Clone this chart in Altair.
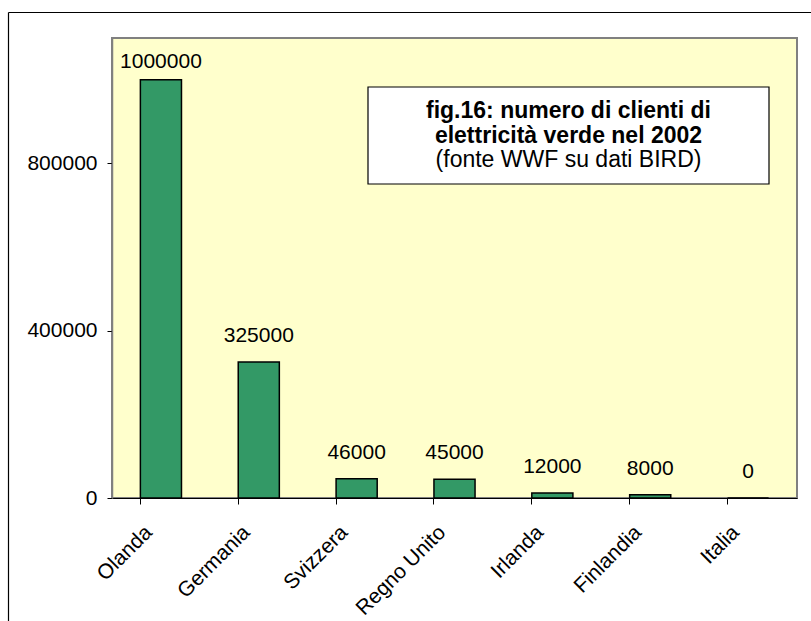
import altair as alt
import pandas as pd

countries = ["Olanda", "Germania", "Svizzera", "Regno Unito", "Irlanda", "Finlandia", "Italia"]
clients = [1000000, 325000, 46000, 45000, 12000, 8000, 0]
y_ticks = [0, 400000, 800000]
title_bold = ["fig.16: numero di clienti di", "elettricità verde nel 2002"]
title_normal = ["(fonte WWF su dati BIRD)"]

df = pd.DataFrame({"paese": countries, "clienti": clients})

FONT = "Liberation Sans"
W, H = 685, 460

y_axis = alt.Axis(title=None, values=y_ticks, grid=False, tickSize=5, tickColor="black",
                  labelFontSize=21, labelFont=FONT, labelPadding=10, labelColor="black",
                  domainColor="#808080", domainWidth=1.5, format="d")
y_scale = alt.Scale(domain=[0, 1100000], nice=False)
x_scale = alt.Scale(paddingInner=0.58, paddingOuter=0.29)

bars = alt.Chart(df).mark_bar(color="#339966", stroke="black", strokeWidth=1.5).encode(
    x=alt.X("paese:N", sort=countries, scale=x_scale,
            axis=alt.Axis(title=None, orient="bottom", labelAngle=-45, labelAlign="right",
                          labelBaseline="middle", labelPadding=31, labelOffset=-12,
                          ticks=False, tickSize=0, labelFontSize=21, labelFont=FONT,
                          labelColor="black", domainColor="black", domainWidth=1)),
    y=alt.Y("clienti:Q", scale=y_scale, axis=y_axis),
)

labels = alt.Chart(df).transform_calculate(
    ly="min(datum.clienti, 980000)"
).mark_text(font=FONT, fontSize=21, color="black", baseline="alphabetic", dy=-20).encode(
    x=alt.X("paese:N", sort=countries, scale=x_scale,
            axis=alt.Axis(title=None, orient="bottom", labels=False, ticks=True, tickSize=6,
                          bandPosition=0, domain=False, tickColor="black", tickWidth=1)),
    y=alt.Y("ly:Q", scale=y_scale, axis=y_axis),
    text=alt.Text("clienti:Q", format="d"),
)

one = pd.DataFrame({"k": [0]})
frame_left = alt.Chart(one).mark_rule(color="black", strokeWidth=1.2).encode(
    x=alt.value(-103.5), y=alt.value(-25.5), y2=alt.value(H + 200))
frame_top = alt.Chart(one).mark_rule(color="black", strokeWidth=1.2).encode(
    x=alt.value(-103.5), x2=alt.value(W + 200), y=alt.value(-25.5))

box = alt.Chart(one).mark_rect(fill="white", stroke="black", strokeWidth=1.2).encode(
    x=alt.value(256), x2=alt.value(657), y=alt.value(49), y2=alt.value(146))

text_layers = []
ys = [80, 104.5, 128.5]
for i, line in enumerate(title_bold + title_normal):
    d = pd.DataFrame({"t": [line]})
    text_layers.append(
        alt.Chart(d).mark_text(font=FONT, fontSize=23, color="black", align="center",
                               baseline="alphabetic",
                               fontWeight="bold" if i < 2 else "normal").encode(
            text="t:N", x=alt.value(456.5), y=alt.value(ys[i]))
    )

chart = alt.layer(frame_left, frame_top, bars, labels, box, *text_layers).resolve_axis(
    x="independent"
).properties(
    width=W, height=H,
    autosize=alt.AutoSizeParams(type="none"),
    padding={"left": 112, "top": 38, "right": 14, "bottom": 123},
    background="white",
).configure_view(fill="#FFFFCC", stroke="#808080", strokeWidth=2)

chart.save("out.html", embed_options={"renderer": "svg", "actions": False})
